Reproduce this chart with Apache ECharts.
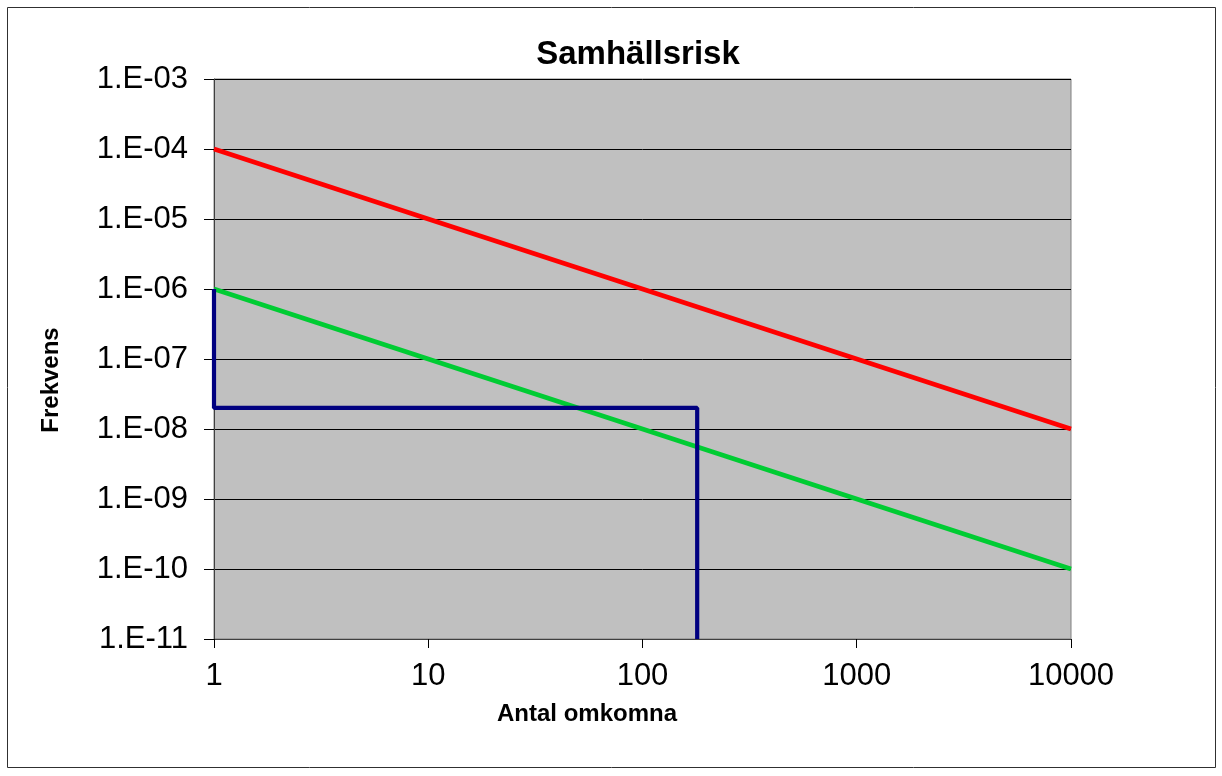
<!DOCTYPE html>
<html>
<head>
<meta charset="utf-8">
<script src="https://cdn.jsdelivr.net/npm/echarts@6/dist/echarts.min.js"></script>
<style>
html,body{margin:0;padding:0;background:#fff;}
#c{width:1222px;height:776px;}
</style>
</head>
<body>
<div id="c"></div>
<script>
const titleText = 'Samhällsrisk';
const xName = 'Antal omkomna';
const yName = 'Frekvens';
const xMin = 1, xMax = 10000;
const yMin = 1e-11, yMax = 1e-3;
// Red line (upper criterion)
const redX = [1, 10000];
const redY = [1e-4, 1e-8];
// Green line (lower criterion)
const greenX = [1, 10000];
const greenY = [1e-6, 1e-10];
// Blue step curve (computed risk)
const blueX = [1, 1, 180, 180];
const blueY = [1e-6, 2e-8, 2e-8, 1e-11];

const FONT = '"Liberation Sans", Arial, sans-serif';
const zip = (xs, ys) => xs.map((x, i) => [x, ys[i]]);

function yLabel(v) {
  const e = Math.round(Math.log10(v));
  return '1.E' + (e < 0 ? '-' : '+') + String(Math.abs(e)).padStart(2, '0');
}

const chart = echarts.init(document.getElementById('c'), null, {renderer: 'canvas'});
chart.setOption({
  backgroundColor: '#ffffff',
  animation: false,
  grid: {
    left: 214, top: 79, right: 151, bottom: 137,
    show: true, backgroundColor: '#c0c0c0', borderColor: '#808080', borderWidth: 1,
    containLabel: false
  },
  xAxis: {
    type: 'log', logBase: 10, min: xMin, max: xMax, splitNumber: 4,
    axisLine: {show: true, onZero: false, lineStyle: {color: '#404040', width: 1}},
    axisTick: {show: true, inside: false, length: 9, lineStyle: {color: '#000'}},
    axisLabel: {color: '#000', fontFamily: FONT, fontSize: 31, margin: 22,
      formatter: v => String(Math.round(v))},
    splitLine: {show: false}
  },
  yAxis: {
    type: 'log', logBase: 10, min: yMin, max: yMax, splitNumber: 8,
    axisLine: {show: true, onZero: false, lineStyle: {color: '#404040', width: 1}},
    axisTick: {show: true, inside: false, length: 10, lineStyle: {color: '#000'}},
    axisLabel: {color: '#000', fontFamily: FONT, fontSize: 31, margin: 26, formatter: yLabel},
    splitLine: {show: true, showMaxLine: false, showMinLine: false, lineStyle: {color: '#000', width: 1}}
  },
  series: [
    {type: 'line', data: zip(redX, redY), symbol: 'none', lineStyle: {color: '#ff0000', width: 4.6}, z: 3},
    {type: 'line', data: zip(greenX, greenY), symbol: 'none', lineStyle: {color: '#00cc33', width: 4.6}, z: 3},
    {type: 'line', data: zip(blueX, blueY), symbol: 'none', lineStyle: {color: '#000080', width: 4.2}, z: 4}
  ],
  graphic: [
    {type: 'rect', shape: {x: 7.5, y: 7.5, width: 1208, height: 760},
      style: {fill: 'none', stroke: '#303030', lineWidth: 1}, z: 0, silent: true},
    {type: 'text', x: 638, y: 55, style: {text: titleText, font: 'bold 33px ' + FONT,
      fill: '#000', textAlign: 'center', textVerticalAlign: 'middle'}},
    {type: 'text', x: 587, y: 714, style: {text: xName, font: 'bold 24px ' + FONT,
      fill: '#000', textAlign: 'center', textVerticalAlign: 'middle'}},
    {type: 'text', x: 51, y: 380, rotation: Math.PI / 2, style: {text: yName, font: 'bold 24px ' + FONT,
      fill: '#000', textAlign: 'center', textVerticalAlign: 'middle'}}
  ]
});
</script>
</body>
</html>
